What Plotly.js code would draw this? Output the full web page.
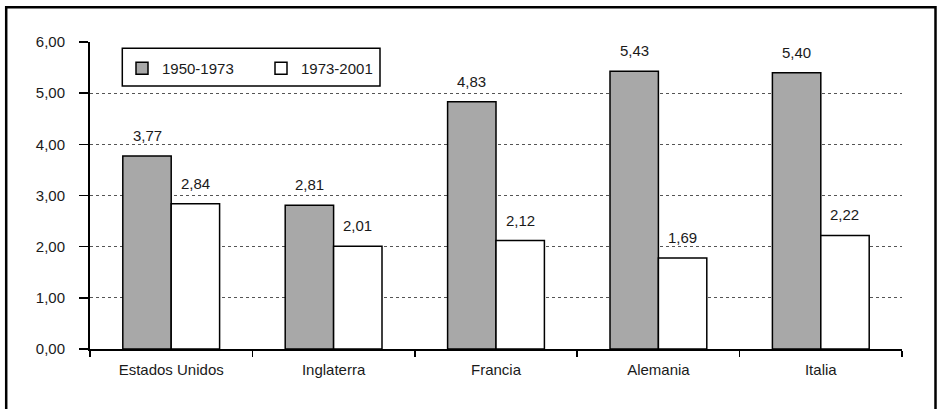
<!DOCTYPE html>
<html>
<head>
<meta charset="utf-8">
<script src="https://cdn.plot.ly/plotly-3.0.1.min.js"></script>
<style>html,body{margin:0;padding:0;background:#fff;}#chart{width:937px;height:409px;}</style>
</head>
<body>
<div id="chart"></div>
<script>
const categories = ["Estados Unidos", "Inglaterra", "Francia", "Alemania", "Italia"];
const seriesNames = ["1950-1973", "1973-2001"];
const values1950 = [3.77, 2.81, 4.83, 5.43, 5.40];
const values1973 = [2.84, 2.01, 2.12, 1.78, 2.22];
const labels1950 = [3.77, 2.81, 4.83, 5.43, 5.40];
const labels1973 = [2.84, 2.01, 2.12, 1.69, 2.22];
const yTicks = [0, 1, 2, 3, 4, 5, 6];

const FONT = '"Liberation Sans Narrow", "Arial Narrow", "Liberation Sans", Arial, sans-serif';
const FS = 15;
const TXT = '#1a1a1a';
const fmt = v => v.toFixed(2).replace('.', ',');

const W = 937, H = 409;
const M = {l: 90, r: 35, t: 42, b: 60};
const pw = W - M.l - M.r, ph = H - M.t - M.b;
const px2x = p => (p - M.l) / pw;
const px2y = p => (H - M.b - p) / ph;

const bargap = 0.404;
const barOffsetPx = (1 - bargap) * (pw / categories.length) / 4;

const traces = [
  {type: 'bar', name: seriesNames[0], x: categories, y: values1950,
   marker: {color: '#a8a8a8', line: {color: '#000', width: 1.5}}, hoverinfo: 'none'},
  {type: 'bar', name: seriesNames[1], x: categories, y: values1973,
   marker: {color: '#ffffff', line: {color: '#000', width: 1.5}}, hoverinfo: 'none'}
];

const annotations = [];
[[values1950, labels1950, -1], [values1973, labels1973, 1]].forEach(([vals, labs, dir]) => {
  categories.forEach((c, i) => {
    annotations.push({x: c, y: vals[i], xref: 'x', yref: 'y', text: fmt(labs[i]),
      showarrow: false, xanchor: 'center', yanchor: 'bottom',
      xshift: dir * barOffsetPx, yshift: 10,
      font: {family: FONT, size: FS, color: TXT}});
  });
});

const shapes = [
  {type: 'rect', xref: 'paper', yref: 'paper', layer: 'below',
   x0: px2x(6.2), x1: px2x(935.5), y0: px2y(440), y1: px2y(7.3),
   line: {color: '#000', width: 2.5}, fillcolor: 'rgba(0,0,0,0)'},
  {type: 'rect', xref: 'paper', yref: 'paper', layer: 'above',
   x0: px2x(122.3), x1: px2x(380), y0: px2y(86), y1: px2y(48.3),
   line: {color: '#000', width: 1.5}, fillcolor: '#fff'}
];

const layout = {
  width: W, height: H, margin: M,
  paper_bgcolor: '#fff', plot_bgcolor: '#fff',
  separators: ',.',
  font: {family: FONT, size: FS, color: TXT},
  barmode: 'group', bargap: bargap, bargroupgap: 0,
  showlegend: true,
  legend: {orientation: 'h', x: px2x(122), xanchor: 'left', y: px2y(52), yanchor: 'top',
    bgcolor: 'rgba(0,0,0,0)', borderwidth: 0, entrywidth: 94, entrywidthmode: 'pixels',
    font: {family: FONT, size: FS, color: TXT}, traceorder: 'normal'},
  xaxis: {type: 'category', showline: true, linecolor: '#000', linewidth: 2,
    ticks: 'outside', tickson: 'boundaries', ticklen: 6, tickwidth: 1.5, tickcolor: '#000',
    showgrid: false, zeroline: false, ticklabelstandoff: 6,
    tickfont: {family: FONT, size: FS, color: TXT}},
  yaxis: {range: [0, 6], tickvals: yTicks, tickformat: '.2f', showline: true, linecolor: '#000', linewidth: 2,
    ticks: 'outside', ticklen: 9, tickwidth: 1.5, tickcolor: '#000',
    showgrid: true, gridcolor: '#555', gridwidth: 1, griddash: 'dot', zeroline: false,
    ticklabelstandoff: 11,
    tickfont: {family: FONT, size: FS, color: TXT}},
  annotations: annotations,
  shapes: shapes
};

Plotly.newPlot('chart', traces, layout, {displayModeBar: false, staticPlot: true});
</script>
</body>
</html>
